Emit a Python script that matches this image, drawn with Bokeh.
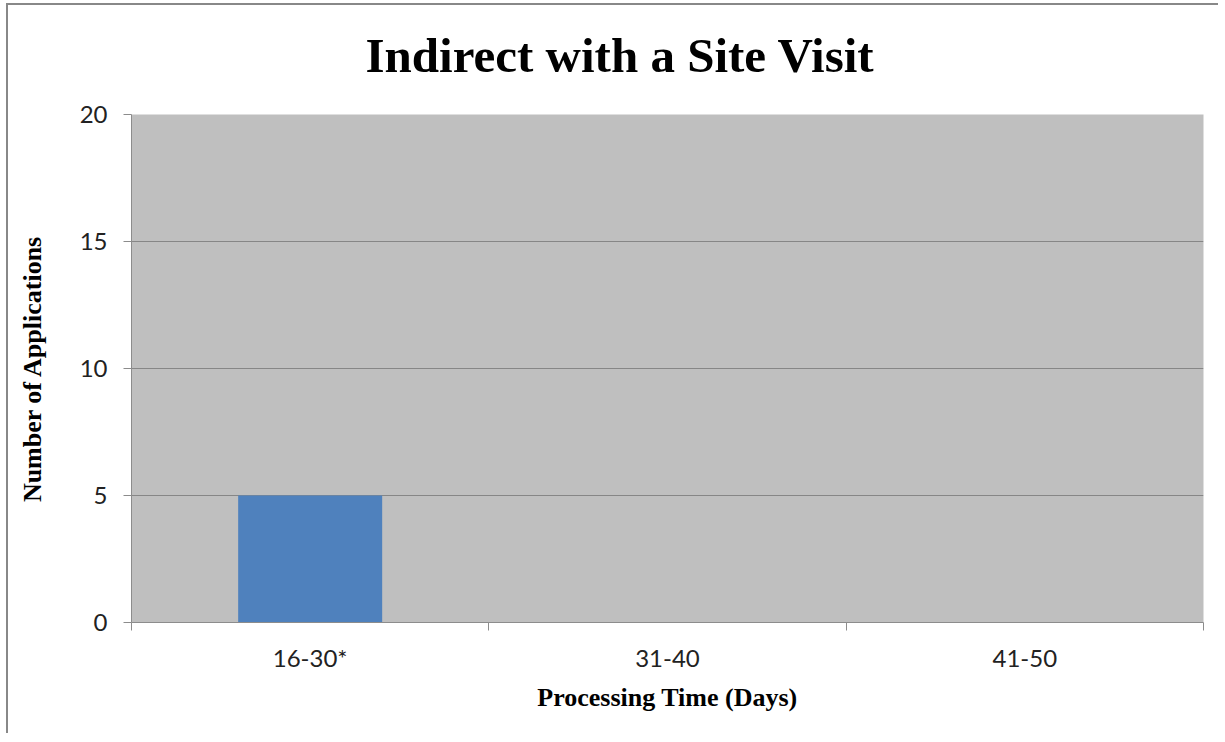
from bokeh.plotting import figure
from bokeh.models import Range1d, LinearAxis, FixedTicker, Title, InlineStyleSheet
from bokeh.embed import file_html
from bokeh.resources import INLINE

categories = ["16-30*", "31-40", "41-50"]
counts = [5, 0, 0]
y_ticks = [0, 5, 10, 15, 20]

title_text = "Indirect with a Site Visit"
x_title = "Processing Time (Days)"
y_title = "Number of Applications"

GRID = "#868686"
AXIS = "#8C8C8C"

n = len(categories)
centers = [i + 0.5 for i in range(n)]
bounds = list(range(n + 1))

p = figure(width=1212, height=730, output_backend="svg", toolbar_location=None,
           x_range=Range1d(0, n), y_range=Range1d(0, 20),
           x_axis_location=None, y_axis_location=None,
           min_border_left=123, min_border_right=17, min_border_top=109, min_border_bottom=113)

p.background_fill_color = "#BFBFBF"
p.border_fill_color = "white"
p.outline_line_color = None

p.vbar(x=centers, top=counts, width=0.403, color="#4F81BD", line_color=None)

# y axis
ya = LinearAxis(ticker=FixedTicker(ticks=y_ticks))
ya.axis_line_color = AXIS
ya.major_tick_line_color = AXIS
ya.major_tick_out = 8
ya.major_tick_in = 0
ya.minor_tick_line_color = None
ya.major_label_text_font = "Lato"
ya.major_label_text_font_size = "24px"
ya.major_label_text_color = "#222222"
ya.major_label_standoff = 16
ya.axis_label = y_title
ya.axis_label_text_font = "Liberation Serif"
ya.axis_label_text_font_style = "bold"
ya.axis_label_text_font_size = "26px"
ya.axis_label_text_color = "black"
ya.axis_label_standoff = 30
p.add_layout(ya, "left")

# x boundary ticks axis
xb = LinearAxis(ticker=FixedTicker(ticks=bounds))
xb.axis_line_color = AXIS
xb.major_tick_line_color = AXIS
xb.major_tick_out = 8
xb.major_tick_in = 0
xb.minor_tick_line_color = None
xb.major_label_text_font_size = "0px"
xb.major_label_standoff = 0
xb.major_label_overrides = {b: "" for b in bounds}
p.add_layout(xb, "below")

# category labels axis
xc = LinearAxis(ticker=FixedTicker(ticks=centers))
xc.major_label_overrides = {c: lab for c, lab in zip(centers, categories)}
xc.axis_line_color = None
xc.major_tick_line_color = None
xc.minor_tick_line_color = None
xc.major_label_text_font = "Lato"
xc.major_label_text_font_size = "24px"
xc.major_label_text_color = "#222222"
xc.major_label_standoff = 6
xc.axis_label = x_title
xc.axis_label_text_font = "Liberation Serif"
xc.axis_label_text_font_style = "bold"
xc.axis_label_text_font_size = "26px"
xc.axis_label_text_color = "black"
xc.axis_label_standoff = 8
p.add_layout(xc, "below")

p.xgrid.grid_line_color = None
p.ygrid.grid_line_color = GRID
p.ygrid.ticker = FixedTicker(ticks=y_ticks)

# spacer between frame and title
spacer = Title(text="\u00a0", text_font="Liberation Serif", text_font_size="20px", standoff=8)
p.add_layout(spacer, "above")

t = Title(text=title_text, align="left", text_font="Liberation Serif",
          text_font_style="bold", text_font_size="49px", text_color="black",
          standoff=0, offset=234)
p.add_layout(t, "above")

p.stylesheets = [InlineStyleSheet(css=":host { margin-left: 8px; margin-top: 5px; box-shadow: -2px -2px 0 0 #888888; }")]

open("out.html", "w").write(file_html(p, INLINE))
